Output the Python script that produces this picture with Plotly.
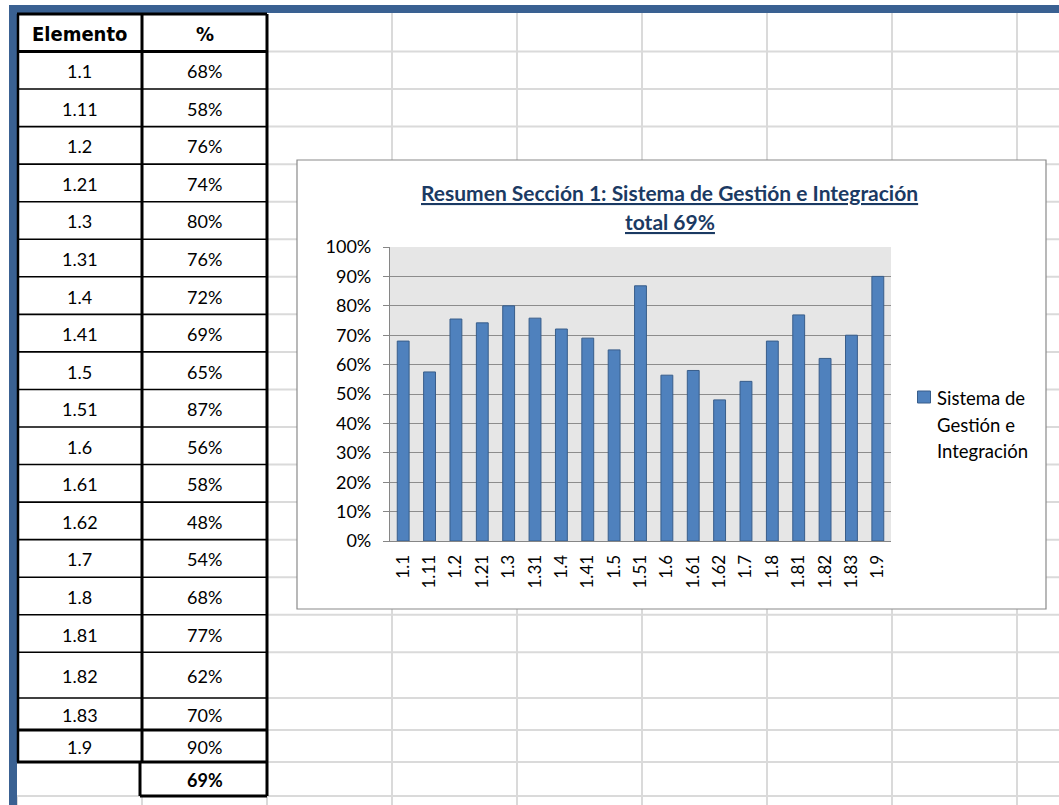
import plotly.graph_objects as go

elements = ["1.1", "1.11", "1.2", "1.21", "1.3", "1.31", "1.4", "1.41", "1.5", "1.51",
            "1.6", "1.61", "1.62", "1.7", "1.8", "1.81", "1.82", "1.83", "1.9"]
percent = [68, 57.5, 75.5, 74.2, 80, 75.8, 72.1, 69, 65, 86.8,
           56.4, 58, 48, 54.3, 68, 76.9, 62.1, 70, 90]
total_percent = 69
table_header = ["Elemento", "%"]
series_name = "Sistema de Gestión e Integración"
chart_title = "Resumen Sección 1: Sistema de Gestión e Integración"

W, H = 1059, 805
FONT = "Lato, Carlito, Calibri, sans-serif"
NARROW = "Liberation Sans Narrow, Arial Narrow, DejaVu Sans Condensed, sans-serif"


def fx(p):
    return p / W


def fy(p):
    return 1 - p / H


def line(x0, y0, x1, y1, color, width, layer="above"):
    return dict(type="line", xref="paper", yref="paper", layer=layer,
                x0=fx(x0), y0=fy(y0), x1=fx(x1), y1=fy(y1),
                line=dict(color=color, width=width))


def rect(x0, y0, x1, y1, fill, color=None, width=0, layer="above"):
    return dict(type="rect", xref="paper", yref="paper", layer=layer,
                x0=fx(x0), y0=fy(y0), x1=fx(x1), y1=fy(y1), fillcolor=fill,
                line=dict(color=color or fill, width=width))


def text(x, y, s, size=18, family=FONT, color="black", **kw):
    return dict(xref="paper", yref="paper", x=fx(x), y=fy(y), text=s, showarrow=False,
                xanchor=kw.pop("xanchor", "center"), yanchor="middle",
                font=dict(family=family, size=size, color=color), **kw)


# spreadsheet geometry (pixels)
row_edges = [14, 51.5] + [51.5 + 37.55 * k for k in range(1, 17)] + [698, 730, 762, 796]
col_left, col_mid, col_right = 17, 142, 267
sheet_cols = [392, 517, 642, 767, 892, 1017]
grid_color = "#dadada"

shapes = []
annotations = []

# sheet gridlines
for x in sheet_cols:
    shapes.append(line(x, 13, x, H, grid_color, 2, "below"))
for x in [col_left, col_mid, col_right]:
    shapes.append(line(x, 796, x, H, grid_color, 2, "below"))
for y in row_edges[1:]:
    shapes.append(line(col_right, y, W, y, grid_color, 2, "below"))
shapes.append(line(col_left, 796, W, 796, grid_color, 2, "below"))

# chart box and plot background
shapes.append(rect(297, 160, 1046, 609, "white", "#8a8a8a", 1.2, "below"))
shapes.append(dict(type="rect", xref="x domain", yref="y domain", layer="below",
                   x0=0, x1=1, y0=0, y1=1, fillcolor="#e6e6e6", line=dict(width=0)))

# blue window frame
shapes.append(rect(9, 5, W, 13, "#3a6192"))
shapes.append(rect(9, 5, 17, H, "#3a6192"))

# table borders
n_rows = len(elements)
for i, y in enumerate(row_edges[1:n_rows + 2]):
    thick = i == 0 or i >= n_rows - 1
    shapes.append(line(col_left, y, col_right, y, "black", 3 if thick else 1.6))
shapes.append(line(col_left, row_edges[0], col_right, row_edges[0], "black", 3))
shapes.append(line(col_left + 1, row_edges[0], col_left + 1, row_edges[n_rows + 1], "black", 2.5))
shapes.append(line(col_mid, row_edges[0], col_mid, row_edges[n_rows + 1], "black", 3))
shapes.append(line(col_right, row_edges[0], col_right, row_edges[-1], "black", 3))
shapes.append(line(col_mid - 2, row_edges[-1], col_right, row_edges[-1], "black", 3))
shapes.append(line(col_mid - 2, row_edges[-2], col_mid - 2, row_edges[-1], "black", 3))

# table text
cx1 = (col_left + col_mid) / 2
cx2 = (col_mid + col_right) / 2
yc = (row_edges[0] + row_edges[1]) / 2 + 1
annotations.append(text(cx1, yc, "<b>" + table_header[0] + "</b>", 20, NARROW))
annotations.append(text(cx2, yc, "<b>" + table_header[1] + "</b>", 20, NARROW))
for i, (el, p) in enumerate(zip(elements, percent)):
    yc = (row_edges[i + 1] + row_edges[i + 2]) / 2 + 1
    annotations.append(text(cx1, yc, el))
    annotations.append(text(cx2, yc, f"{int(p + 0.5)}%"))
yc = (row_edges[-2] + row_edges[-1]) / 2 + 1
annotations.append(text(cx2, yc, f"<b>{total_percent}%</b>"))

# chart title
title_color = "#1b3a63"
annotations.append(text(669.5, 192, f"<b><u>{chart_title}</u></b>", 21, color=title_color))
annotations.append(text(669.5, 221, f"<b><u>total {total_percent}%</u></b>", 21, color=title_color))

# legend drawn by hand so the wrapped lines keep Excel's spacing
shapes.append(rect(917.5, 391, 930.5, 403, "#4f81bd", "#385d8a", 1))
words = series_name.split()
legend_lines = [" ".join(words[0:2]), " ".join(words[2:4]), " ".join(words[4:])]
for i, s in enumerate(legend_lines):
    annotations.append(text(935, 398 + 26.5 * i, s, 18.5, xanchor="left"))

fig = go.Figure()
fig.add_trace(go.Bar(x=elements, y=[p / 100 for p in percent], name=series_name,
                     width=0.45, showlegend=False,
                     marker=dict(color="#4f81bd", line=dict(color="#385d8a", width=1))))

fig.update_layout(
    width=W, height=H, margin=dict(l=0, r=0, t=0, b=0, autoexpand=False),
    paper_bgcolor="white", plot_bgcolor="rgba(0,0,0,0)",
    font=dict(family=FONT, size=18, color="black"),
    shapes=shapes, annotations=annotations, showlegend=False,
    xaxis=dict(type="category", domain=[fx(390), fx(891)], showgrid=False, automargin=False,
               showline=True, linecolor="#868686", linewidth=1.2,
               tickangle=-90, ticks="", ticklabelstandoff=6,
               tickfont=dict(family=FONT, size=17, color="black"), fixedrange=True),
    yaxis=dict(domain=[fy(541), fy(247)], range=[0, 1], dtick=0.1, tickformat=".0%",
               showgrid=True, gridcolor="#8c8c8c", gridwidth=1.3, zeroline=False,
               showline=True, linecolor="#868686", linewidth=1.2, automargin=False,
               ticks="outside", ticklen=6, tickcolor="#868686", ticklabelstandoff=8,
               tickfont=dict(family=FONT, size=18, color="black"), fixedrange=True),
)

# pin the graph to the window corner so the page is exactly the figure
pin = ("var gd=document.getElementById('{plot_id}');"
       "gd.style.position='fixed';gd.style.top='0';gd.style.left='0';"
       "document.body.style.margin='0';document.body.style.overflow='hidden';")
fig.write_html("out.html", config={"displayModeBar": False}, post_script=pin)
